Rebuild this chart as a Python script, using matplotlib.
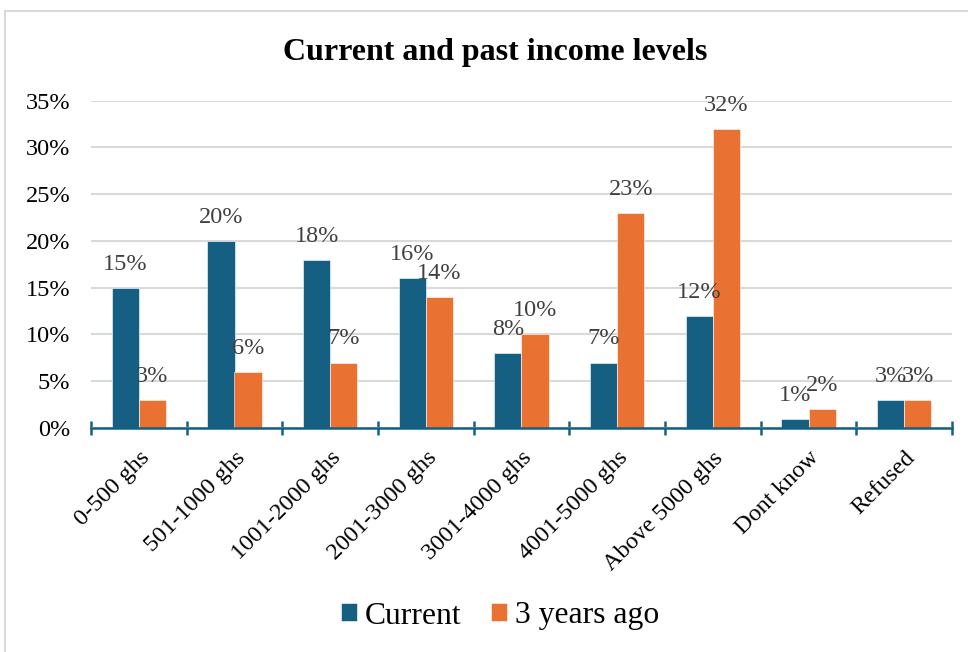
import matplotlib.pyplot as plt
from matplotlib.patches import Rectangle
from matplotlib.ticker import PercentFormatter, FixedLocator
from matplotlib.transforms import ScaledTranslation
import numpy as np

categories = ['0-500 ghs', '501-1000 ghs', '1001-2000 ghs', '2001-3000 ghs',
              '3001-4000 ghs', '4001-5000 ghs', 'Above 5000 ghs', 'Dont know',
              'Refused']
current = [0.15, 0.20, 0.18, 0.16, 0.08, 0.07, 0.12, 0.01, 0.03]
three_years_ago = [0.03, 0.06, 0.07, 0.14, 0.10, 0.23, 0.32, 0.02, 0.03]
y_ticks = [0, 0.05, 0.10, 0.15, 0.20, 0.25, 0.30, 0.35]

BLUE = '#156082'
ORANGE = '#E97132'
GRID = '#D9D9D9'
LABEL_GRAY = '#404040'
FS = 17.5

plt.rcParams['font.family'] = ['Liberation Serif', 'DejaVu Serif']

fig = plt.figure(figsize=(9.68, 6.52), dpi=100)
ax = fig.add_axes([91 / 968, 1 - 428 / 652, (952 - 91) / 968, (428 - 100.7) / 652])

# chart area border
fig.add_artist(Rectangle((5 / 968, -0.2), 1.5, 1.2 - 10.5 / 652,
                         transform=fig.transFigure, fill=False,
                         edgecolor=GRID, linewidth=1.5))

x = np.arange(len(categories))
width = 0.283
b1 = ax.bar(x - width / 2, current, width, color=BLUE, edgecolor='white',
            linewidth=0.4, label='Current', zorder=3)
b2 = ax.bar(x + width / 2, three_years_ago, width, color=ORANGE,
            edgecolor='white', linewidth=0.4, label='3 years ago', zorder=3)

for bars, vals in ((b1, current), (b2, three_years_ago)):
    for rect, v in zip(bars, vals):
        ax.annotate(f'{v:.0%}', (rect.get_x() + rect.get_width() / 2, v),
                    xytext=(0, 13), textcoords='offset points',
                    ha='center', va='baseline', fontsize=FS,
                    color=LABEL_GRAY, zorder=4)

ax.set_xlim(-0.5, len(categories) - 0.5)
ax.set_ylim(0, 0.35)
ax.set_yticks(y_ticks)
ax.yaxis.set_major_formatter(PercentFormatter(1.0, decimals=0))
ax.grid(axis='y', color=GRID, linewidth=1.5, zorder=0)
ax.set_axisbelow(True)

for side in ('left', 'right', 'top'):
    ax.spines[side].set_visible(False)
ax.spines['bottom'].set_color(BLUE)
ax.spines['bottom'].set_linewidth(1.8)
ax.spines['bottom'].set_zorder(5)

ax.set_xticks(x)
ax.set_xticklabels(categories, rotation=45, ha='right',
                   rotation_mode='anchor', fontsize=FS)
shift = ScaledTranslation(-5 / 100, 0, fig.dpi_scale_trans)
for lbl in ax.get_xticklabels():
    lbl.set_transform(lbl.get_transform() + shift)
ax.xaxis.set_minor_locator(FixedLocator(np.arange(len(categories) + 1) - 0.5))
ax.tick_params(axis='x', which='major', length=0, pad=14)
ax.tick_params(axis='x', which='minor', direction='inout', length=9.5,
               width=1.8, color=BLUE)
ax.tick_params(axis='y', length=0, pad=15, labelsize=FS)

fig.text(495 / 968, 1 - 60 / 652, 'Current and past income levels',
         ha='center', va='baseline', fontsize=23, fontweight='bold')

fig.legend(handles=[b1, b2], loc='center', bbox_to_anchor=(500 / 968, 1 - 616 / 652),
           ncol=2, frameon=False, fontsize=22.8, handlelength=0.5,
           handleheight=0.5, handletextpad=0.25, columnspacing=0.93)

fig.savefig('out.png', dpi=100)
